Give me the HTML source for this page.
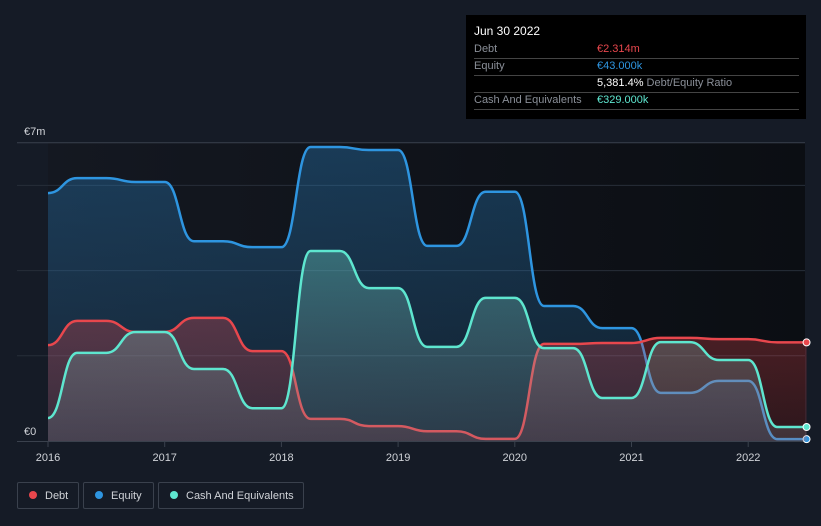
<!DOCTYPE html>
<html><head><meta charset="utf-8"><style>
html,body{margin:0;padding:0;background:#151b26;width:821px;height:526px;overflow:hidden;font-family:"Liberation Sans",sans-serif;}
#tip{position:absolute;left:466px;top:15px;width:340px;height:104px;background:#000;color:#fff;font-size:11px;}
.row{position:absolute;left:8px;width:325px;border-bottom:1px solid #444;}
.lbl{position:absolute;left:0;color:#8a8f98;}
.val{position:absolute;left:123px;}
.leg{position:absolute;top:482px;height:27px;border:1px solid #3a414d;border-radius:2px;color:#d0d3d8;font-size:11px;line-height:27px;box-sizing:border-box;}
.dot{display:inline-block;width:8px;height:8px;border-radius:50%;margin:0 8px 0 11px;vertical-align:-0px;}
</style></head><body>
<svg id="chart" width="821" height="526" style="position:absolute;left:0;top:0">
<defs>
<linearGradient id="bg" x1="0" x2="1" y1="0" y2="0"><stop offset="0" stop-color="#141821"/><stop offset="1" stop-color="#0b0e13"/></linearGradient>
<linearGradient id="gEq" x1="0" x2="0" y1="0" y2="1"><stop offset="0" stop-color="#2e95e0" stop-opacity="0.3"/><stop offset="1" stop-color="#2e95e0" stop-opacity="0.12"/></linearGradient>
<linearGradient id="gDe" x1="0" x2="0" y1="0" y2="1"><stop offset="0" stop-color="#e8474d" stop-opacity="0.3"/><stop offset="1" stop-color="#e8474d" stop-opacity="0.15"/></linearGradient>
<linearGradient id="gCa" x1="0" x2="0" y1="0" y2="1"><stop offset="0" stop-color="#6fd8c8" stop-opacity="0.35"/><stop offset="1" stop-color="#8a9aa6" stop-opacity="0.2"/></linearGradient>
</defs>
</svg>
<div id="tip">
 <div style="position:absolute;left:8px;top:9px;font-size:12px;">Jun 30 2022</div>
 <div class="row" style="top:26px;height:17px"><span class="lbl" style="top:2px">Debt</span><span class="val" style="top:2px;color:#e8474d">€2.314m</span></div>
 <div class="row" style="top:43px;height:17px"><span class="lbl" style="top:2px">Equity</span><span class="val" style="top:2px;color:#2e95e0">€43.000k</span></div>
 <div class="row" style="top:60px;height:17px"><span class="val" style="top:2px;color:#fff">5,381.4% <span style="color:#8a8f98">Debt/Equity Ratio</span></span></div>
 <div class="row" style="top:77px;height:17px"><span class="lbl" style="top:2px">Cash And Equivalents</span><span class="val" style="top:2px;color:#5ee6cf">€329.000k</span></div>
</div>
<div class="leg" style="left:17px;width:62px"><span class="dot" style="background:#e8474d"></span>Debt</div>
<div class="leg" style="left:83px;width:71px"><span class="dot" style="background:#2e95e0"></span>Equity</div>
<div class="leg" style="left:158px;width:146px"><span class="dot" style="background:#5ee6cf"></span>Cash And Equivalents</div>
<script>
const dates=[2016,2016.25,2016.5,2016.75,2017,2017.25,2017.5,2017.75,2018,2018.25,2018.5,2018.75,2019,2019.25,2019.5,2019.75,2020,2020.25,2020.5,2020.75,2021,2021.25,2021.5,2021.75,2022,2022.25,2022.5];
const equity=[5.82,6.17,6.17,6.08,6.08,4.69,4.69,4.55,4.55,6.9,6.9,6.83,6.83,4.58,4.58,5.85,5.85,3.17,3.17,2.65,2.65,1.13,1.13,1.41,1.41,0.043,0.043];
const debt=[2.25,2.82,2.82,2.56,2.56,2.89,2.89,2.11,2.11,0.52,0.52,0.35,0.35,0.23,0.23,0.05,0.05,2.28,2.28,2.3,2.3,2.42,2.42,2.39,2.39,2.314,2.314];
const cash=[0.54,2.07,2.07,2.56,2.56,1.69,1.69,0.77,0.77,4.46,4.46,3.59,3.59,2.21,2.21,3.36,3.36,2.18,2.18,1.01,1.01,2.32,2.32,1.9,1.9,0.329,0.329];
const yearTicks=[2016,2017,2018,2019,2020,2021,2022];
const gridVals=[2,4,6,7];
const X=v=>48+(v-2016)*116.7, Y=v=>441-v*42.6;
const svg=document.getElementById('chart'),NS='http://www.w3.org/2000/svg';
function mk(t,a){const e=document.createElementNS(NS,t);for(const k in a)e.setAttribute(k,a[k]);svg.appendChild(e);return e;}
let e=mk('rect',{x:48,y:143,width:757,height:298,fill:'url(#bg)'});


gridVals.forEach(g=>{const l=mk('line',{x1:17,x2:805,y1:Y(g),y2:Y(g),stroke:g==7?'#3a414d':'#272e39','stroke-width':1});

});
const bl=mk('line',{x1:17,x2:805,y1:441.5,y2:441.5,stroke:'#3a414d'});


function path(vals){let d='M'+X(dates[0])+','+Y(vals[0]);for(let i=1;i<vals.length;i++){const x0=X(dates[i-1]),x1=X(dates[i]),m=(x0+x1)/2;d+=' C'+m+','+Y(vals[i-1])+' '+m+','+Y(vals[i])+' '+x1+','+Y(vals[i]);}return d;}
function series(vals,color,fill,name){const p=path(vals);
const a=mk('path',{d:p+' L'+X(dates[dates.length-1])+',441 L'+X(dates[0])+',441 Z',fill:fill});


const l=mk('path',{d:p,fill:'none',stroke:color,'stroke-width':2.5});


const c=mk('circle',{cx:X(dates[dates.length-1]),cy:Y(vals[vals.length-1]),r:3.5,fill:color,stroke:'#fff','stroke-width':1});

}
series(equity,'#2e95e0','url(#gEq)','equity');
series(debt,'#e8474d','url(#gDe)','debt');
series(cash,'#5ee6cf','url(#gCa)','cash');
yearTicks.forEach(y=>{const k=mk('line',{x1:X(y),x2:X(y),y1:442,y2:447,stroke:'#3a414d'});


const t=mk('text',{x:X(y),y:461,fill:'#d0d3d8','font-size':11,'text-anchor':'middle'});t.textContent=y;

});
let t=mk('text',{x:24,y:135,fill:'#d0d3d8','font-size':11});t.textContent='€7m';


t=mk('text',{x:24,y:435,fill:'#d0d3d8','font-size':11});t.textContent='€0';


</script>
</body></html>
